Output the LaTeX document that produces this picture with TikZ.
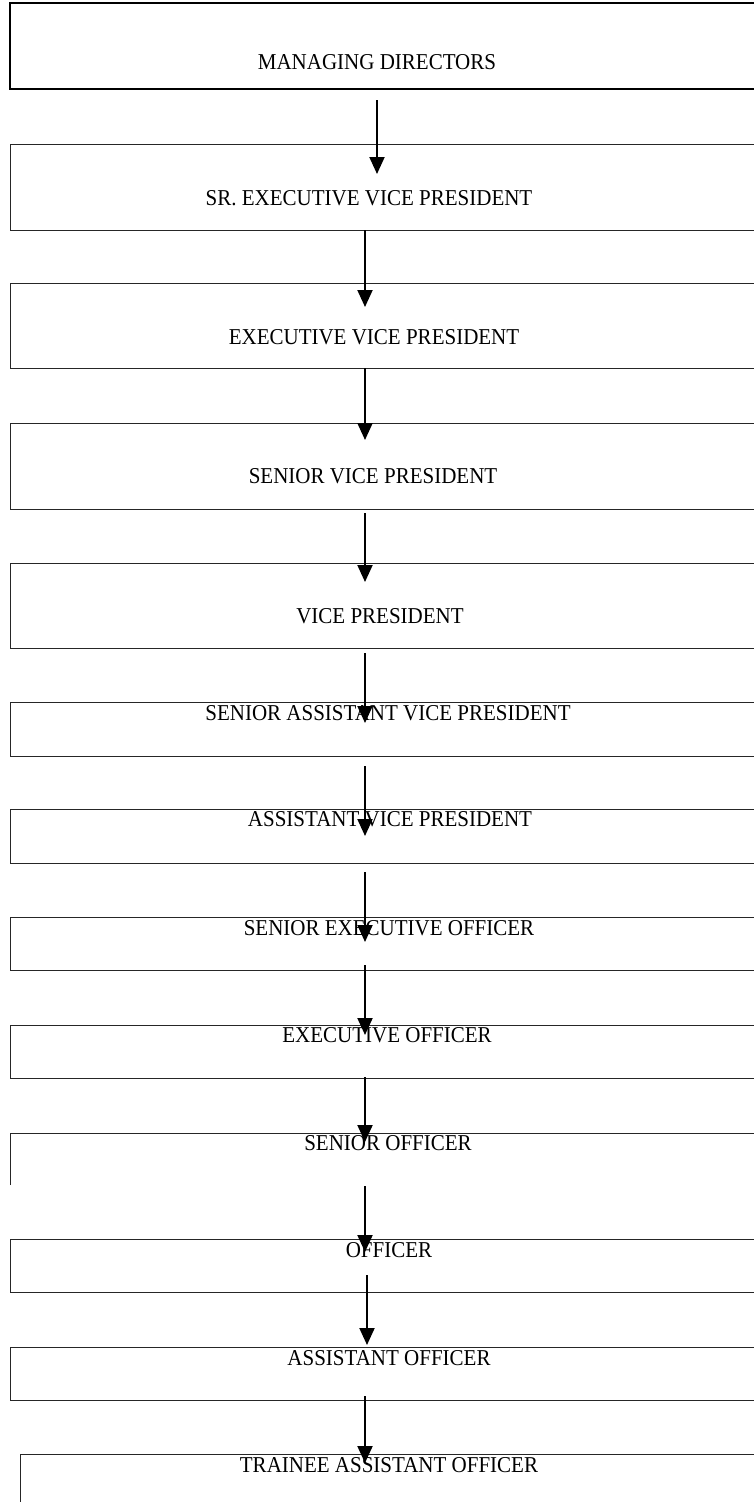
\documentclass[tikz,border=0pt]{standalone}
\usepackage{fontspec}
\setmainfont{Liberation Serif}
\usetikzlibrary{arrows.meta,calc}
\tikzset{
  box/.style={draw=black!85, line width=1pt, rectangle, inner sep=0pt, outer sep=0pt, minimum width=760pt, anchor=north west},
  topbox/.style={box, draw=black, line width=2pt},
  openbox/.style={rectangle, inner sep=0pt, outer sep=0pt, minimum width=760pt, anchor=north west},
  lab/.style={inner sep=0pt, font=\fontsize{21}{25}\selectfont, yscale=1.08},
  arr/.style={line width=2pt, -{Triangle[width=15pt,length=17pt]}}
}
\begin{document}
\begin{tikzpicture}[x=1pt,y=-1pt]
\useasboundingbox (0,0) rectangle (754,1502);
\clip (0,0) rectangle (754,1502);
% boxes
\node[topbox, minimum height=86pt] (b1) at (10,3) {};
\node[box, minimum height=86pt] (b2) at (10,144) {};
\node[box, minimum height=85pt] (b3) at (10,283) {};
\node[box, minimum height=86pt] (b4) at (10,423) {};
\node[box, minimum height=85pt] (b5) at (10,563) {};
\node[box, minimum height=54pt] (b6) at (10,702) {};
\node[box, minimum height=54pt] (b7) at (10,809) {};
\node[box, minimum height=53pt] (b8) at (10,917) {};
\node[box, minimum height=53pt] (b9) at (10,1025) {};
\node[openbox, minimum height=52pt] (b10) at (10,1133) {};
\draw[draw=black!85, line width=1pt] (b10.south west) -- (b10.north west) -- (b10.north east);
\node[box, minimum height=53pt] (b11) at (10,1239) {};
\node[box, minimum height=53pt] (b12) at (10,1347) {};
\node[box, minimum height=70pt] (b13) at (20,1454) {};
% labels
\node[lab] (t1) at (377,62) {MANAGING DIRECTORS};
\node[lab] (t2) at (369,198) {SR. EXECUTIVE VICE PRESIDENT};
\node[lab] (t3) at (374,337) {EXECUTIVE VICE PRESIDENT};
\node[lab] (t4) at (373,476) {SENIOR VICE PRESIDENT};
\node[lab] (t5) at (380,616) {VICE PRESIDENT};
\node[lab] (t6) at (388,713) {SENIOR ASSISTANT VICE PRESIDENT};
\node[lab] (t7) at (390,819) {ASSISTANT VICE PRESIDENT};
\node[lab] (t8) at (389,928) {SENIOR EXECUTIVE OFFICER};
\node[lab] (t9) at (387,1035) {EXECUTIVE OFFICER};
\node[lab] (t10) at (388,1143) {SENIOR OFFICER};
\node[lab] (t11) at (389,1250) {OFFICER};
\node[lab] (t12) at (389,1358) {ASSISTANT OFFICER};
\node[lab] (t13) at (389,1465) {TRAINEE ASSISTANT OFFICER};
% connectors
\draw[arr] ($(b1.south west)+(367,11)$) -- ($(b2.north west)+(367,30)$);
\draw[arr] ($(b2.south west)+(355,0)$) -- ($(b3.north west)+(355,24)$);
\draw[arr] ($(b3.south west)+(355,0)$) -- ($(b4.north west)+(355,17)$);
\draw[arr] ($(b4.south west)+(355,4)$) -- ($(b5.north west)+(355,19)$);
\draw[arr] ($(b5.south west)+(355,5)$) -- ($(b6.north west)+(355,21)$);
\draw[arr] ($(b6.south west)+(355,10)$) -- ($(b7.north west)+(355,27)$);
\draw[arr] ($(b7.south west)+(355,9)$) -- ($(b8.north west)+(355,25)$);
\draw[arr] ($(b8.south west)+(355,-5)$) -- ($(b9.north west)+(355,10)$);
\draw[arr] ($(b9.south west)+(355,-1)$) -- ($(b10.north west)+(355,9)$);
\draw[arr] ($(b10.south west)+(355,1)$) -- ($(b11.north west)+(355,13)$);
\draw[arr] ($(b11.south west)+(357,-17)$) -- ($(b12.north west)+(357,-2)$);
\draw[arr] ($(b12.south west)+(355,-4)$) -- ($(b13.north west)+(345,9)$);
\end{tikzpicture}
\end{document}
